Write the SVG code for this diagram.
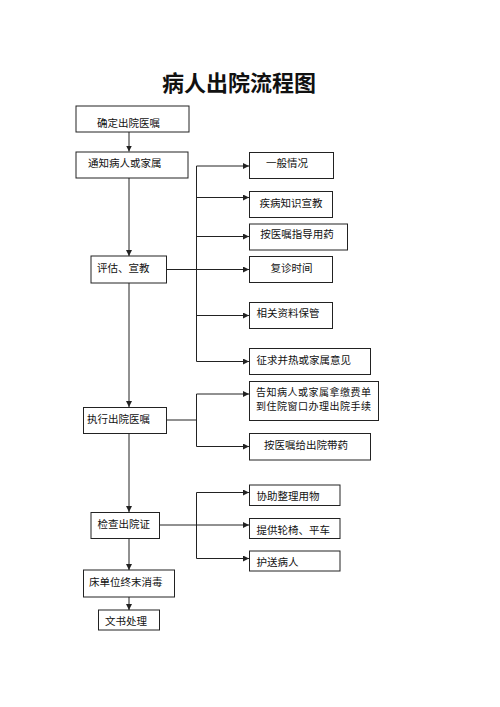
<svg xmlns="http://www.w3.org/2000/svg" width="500" height="707" viewBox="0 0 500 707">
<style>
rect.b{fill:#fff;stroke:#222;stroke-width:1}
text{font-family:"Noto Sans CJK SC","Noto Sans CJK JP",sans-serif;font-size:10.5px;fill:#111;dominant-baseline:central}
.c{text-anchor:middle}
.s{font-size:10px;letter-spacing:0.5px}
.t{font-size:22px;font-weight:bold;text-anchor:middle}
#connectors path{fill:none;stroke:#222;stroke-width:1}
</style>
<defs>
<marker id="a" viewBox="0 0 8 8" refX="8" refY="4" markerWidth="6" markerHeight="6" orient="auto" markerUnits="userSpaceOnUse">
<path d="M0,0 L8,4 L0,8 Z" fill="#222"/>
</marker>
</defs>
<rect width="500" height="707" fill="#fff"/>
<text class="t" x="239" y="81">病人出院流程图</text>
<g id="connectors">
<path d="M129,132 V151.5" marker-end="url(#a)"/>
<path d="M129,178 V256" marker-end="url(#a)"/>
<path d="M129,283 V407" marker-end="url(#a)"/>
<path d="M129,433 V512" marker-end="url(#a)"/>
<path d="M129,538 V570" marker-end="url(#a)"/>
<path d="M129,597 V610" marker-end="url(#a)"/>
<path d="M196.5,361.5 V166 H249" marker-end="url(#a)"/>
<path d="M196.5,197.5 H249" marker-end="url(#a)"/>
<path d="M196.5,236.5 H249" marker-end="url(#a)"/>
<path d="M166.5,269.5 H249" marker-end="url(#a)"/>
<path d="M196.5,315.5 H249" marker-end="url(#a)"/>
<path d="M196.5,361.5 H249" marker-end="url(#a)"/>
<path d="M166.5,420 H196.5"/>
<path d="M196.5,446.5 V394 H249" marker-end="url(#a)"/>
<path d="M196.5,446.5 H249" marker-end="url(#a)"/>
<path d="M196.5,558.5 V492.5 H249" marker-end="url(#a)"/>
<path d="M159.5,525 H249" marker-end="url(#a)"/>
<path d="M196.5,558.5 H249" marker-end="url(#a)"/>
</g>
<g id="n1"><rect class="b" x="76" y="106" width="113" height="26"/><text class="c" x="128.5" y="122.5">确定出院医嘱</text></g>
<g id="n2"><rect class="b" x="76" y="152" width="112" height="26"/><text x="88" y="162">通知病人或家属</text></g>
<g id="n3"><rect class="b" x="91" y="256" width="75.5" height="27"/><text x="97" y="267">评估、宣教</text></g>
<g id="n4"><rect class="b" x="83.5" y="407.5" width="83" height="26"/><text x="87" y="418.5">执行出院医嘱</text></g>
<g id="n5"><rect class="b" x="91" y="512.5" width="68.5" height="26"/><text x="97.5" y="523.5">检查出院证</text></g>
<g id="n6"><rect class="b" x="83.5" y="570" width="91" height="27"/><text x="89" y="581">床单位终末消毒</text></g>
<g id="n7"><rect class="b" x="98.5" y="610" width="61" height="20"/><text x="105" y="620.5">文书处理</text></g>
<g id="r1"><rect class="b" x="249.5" y="152.5" width="84" height="26"/><text class="c" x="287" y="162">一般情况</text></g>
<g id="r2"><rect class="b" x="249.5" y="191.5" width="83" height="26"/><text class="c" x="291" y="202">疾病知识宣教</text></g>
<g id="r3"><rect class="b" x="249.5" y="224" width="98" height="26"/><text class="c" x="297" y="233.5">按医嘱指导用药</text></g>
<g id="r4"><rect class="b" x="249.5" y="256.5" width="83" height="26"/><text class="c" x="291.5" y="267">复诊时间</text></g>
<g id="r5"><rect class="b" x="249.5" y="302.5" width="83" height="26"/><text x="256.5" y="312.5">相关资料保管</text></g>
<g id="r6"><rect class="b" x="249.5" y="348.5" width="121" height="26"/><text x="256.5" y="359.5">征求并热或家属意见</text></g>
<g id="r7"><rect class="b" x="249.5" y="381.5" width="129" height="39"/><text class="s" x="256" y="391">告知病人或家属拿缴费单</text><text class="s" x="256" y="405">到住院窗口办理出院手续</text></g>
<g id="r8"><rect class="b" x="249.5" y="433.5" width="121" height="26.5"/><text class="c" x="306" y="444">按医嘱给出院带药</text></g>
<g id="r9"><rect class="b" x="249.5" y="485" width="90.5" height="20.5"/><text x="256.5" y="495.5">协助整理用物</text></g>
<g id="r10"><rect class="b" x="249.5" y="518.5" width="90.5" height="20"/><text x="256.5" y="529">提供轮椅、平车</text></g>
<g id="r11"><rect class="b" x="249.5" y="551" width="90.5" height="20"/><text x="256.5" y="561.5">护送病人</text></g>
</svg>
